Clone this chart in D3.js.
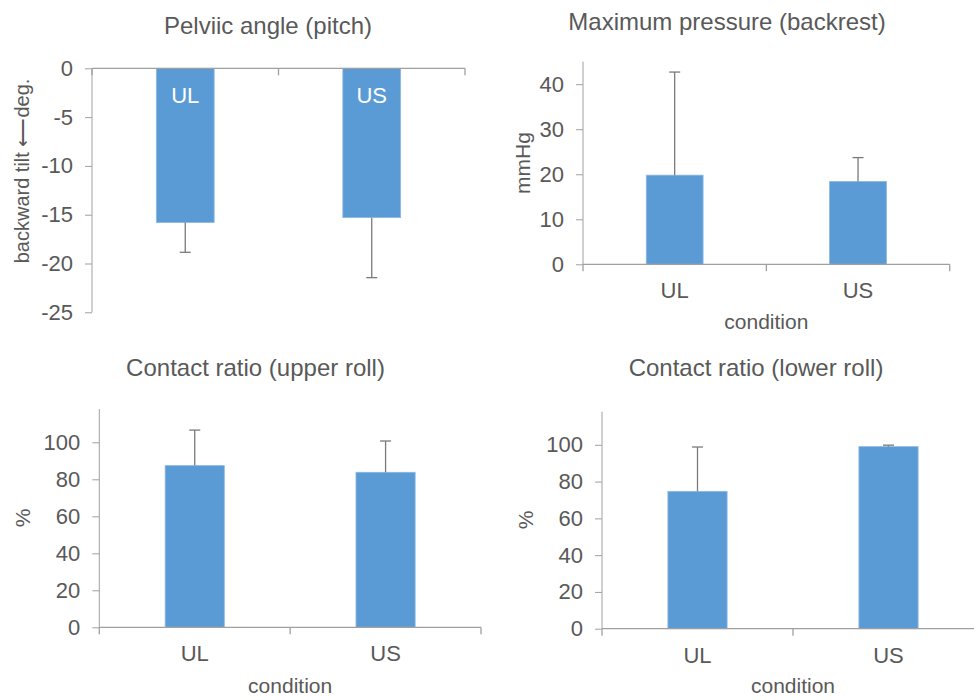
<!DOCTYPE html>
<html><head><meta charset="utf-8">
<script src="https://cdn.jsdelivr.net/npm/d3@7"></script>
<style>body{margin:0;background:#fff}text{font-family:Arial,"Liberation Sans",sans-serif;fill:#595959}</style>
</head><body><svg id="c" width="974" height="700"></svg>
<script>
const categories = ["UL", "US"];
const pelvicMean = [-15.8, -15.3];
const pelvicErr = [-18.85, -21.45];
const pressureMean = [19.8, 18.4];
const pressureErr = [42.7, 23.7];
const upperMean = [87.4, 83.8];
const upperErr = [106.6, 100.7];
const lowerMean = [74.7, 99.0];
const lowerErr = [98.8, 99.8];
const pelvicTicks = [0, -5, -10, -15, -20, -25];
const pressureTicks = [0, 10, 20, 30, 40];
const pctTicks = [0, 20, 40, 60, 80, 100];

const svg = d3.select("#c");
const BAR = "#5B9BD5", AX = "#a0a0a0", ERR = "#7a7a7a";

function panel(o) {
  const g = svg.append("g");
  const x = d3.scaleBand().domain(categories).range([o.x0, o.x1]).paddingInner(0.69).paddingOuter(0.345);
  const y = d3.scaleLinear().domain(o.domain).range([o.yBottom, o.yTop]);
  g.append("text").attr("x", o.tx).attr("y", o.ty).attr("text-anchor", "middle")
    .style("font-size", "24px").text(o.title);
  const y0 = y(0);
  g.selectAll("rect.bar").data(o.mean).join("rect")
    .attr("x", (d, i) => x(categories[i]))
    .attr("width", x.bandwidth())
    .attr("y", d => Math.min(y(d), y0))
    .attr("height", d => Math.abs(y(d) - y0))
    .attr("fill", BAR).attr("stroke", "#8cb8e2").attr("stroke-width", 0.8);
  o.err.forEach((e, i) => {
    const cx = x(categories[i]) + x.bandwidth() / 2;
    g.append("line").attr("x1", cx).attr("x2", cx).attr("y1", y(o.mean[i])).attr("y2", y(e))
      .attr("stroke", ERR).attr("stroke-width", 1.3);
    g.append("line").attr("x1", cx - 5.5).attr("x2", cx + 5.5).attr("y1", y(e)).attr("y2", y(e))
      .attr("stroke", ERR).attr("stroke-width", 1.3);
  });
  const ya = g.append("g").attr("transform", `translate(${o.x0},0)`)
    .call(d3.axisLeft(y).tickValues(o.ticks).tickSize(7).tickPadding(12).tickFormat(d => String(d)));
  ya.select(".domain").attr("stroke", AX).attr("d", `M0,${o.yTop}V${o.yBottom}`);
  ya.selectAll(".tick line").attr("stroke", AX);
  ya.selectAll(".tick text").style("font-size", "22px").style("fill", "#595959");
  const step = x.step();
  const bounds = categories.map(c => x(c) - (step - x.bandwidth()) / 2).concat([o.x1]);
  g.append("line").attr("x1", o.x0).attr("x2", o.x1).attr("y1", y0).attr("y2", y0).attr("stroke", AX).attr("stroke-width", 1.3);
  g.selectAll("line.bt").data(bounds).join("line").attr("class", "bt")
    .attr("x1", d => d).attr("x2", d => d).attr("y1", y0).attr("y2", y0 + 7).attr("stroke", AX).attr("stroke-width", 1.3);
  if (o.inside) {
    g.selectAll("text.in").data(categories).join("text")
      .attr("x", d => x(d) + x.bandwidth() / 2).attr("y", y0 + 35).attr("text-anchor", "middle")
      .style("font-size", "22px").style("fill", "#fff").text(d => d);
  } else {
    g.selectAll("text.cat").data(categories).join("text")
      .attr("x", d => x(d) + x.bandwidth() / 2).attr("y", y0 + 34).attr("text-anchor", "middle")
      .style("font-size", "22px").text(d => d);
    g.append("text").attr("x", (o.x0 + o.x1) / 2).attr("y", o.cy).attr("text-anchor", "middle")
      .style("font-size", "21px").text("condition");
  }
  g.append("text").attr("transform", `translate(${o.ylx},${o.yly}) rotate(-90)`)
    .attr("text-anchor", "middle").style("font-size", o.ylSize || "21px").text(o.ylabel);
}

panel({title: "Pelviic  angle  (pitch)", tx: 268, ty: 34, x0: 92, x1: 465, yTop: 68.3, yBottom: 312.3,
  domain: [-25, 0], ticks: pelvicTicks, mean: pelvicMean, err: pelvicErr, inside: true,
  ylabel: "backward tilt ⟵deg.", ylx: 29, yly: 171, ylSize: "20px"});
panel({title: "Maximum  pressure (backrest)", tx: 727, ty: 30, x0: 583, x1: 949.7, yTop: 61.7, yBottom: 264.3,
  domain: [0, 45], ticks: pressureTicks, mean: pressureMean, err: pressureErr, cy: 329,
  ylabel: "mmHg", ylx: 530, yly: 163});
panel({title: "Contact ratio (upper roll)", tx: 255.5, ty: 376, x0: 99.3, x1: 481, yTop: 409, yBottom: 627.3,
  domain: [0, 118], ticks: pctTicks, mean: upperMean, err: upperErr, cy: 693,
  ylabel: "%", ylx: 30, yly: 518});
panel({title: "Contact ratio (lower roll)", tx: 756, ty: 376, x0: 602, x1: 984, yTop: 411.7, yBottom: 628.7,
  domain: [0, 118], ticks: pctTicks, mean: lowerMean, err: lowerErr, cy: 693,
  ylabel: "%", ylx: 533, yly: 520});
</script></body></html>
